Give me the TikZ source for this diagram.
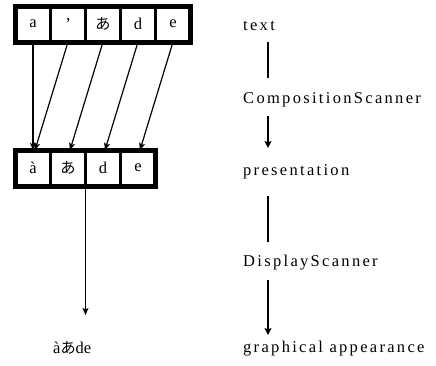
\documentclass[tikz,border=0pt]{standalone}
\usepackage{fontspec}
\setmainfont{Liberation Serif}
\newfontfamily\jpfont[Scale=0.92]{Noto Sans CJK JP}
\usetikzlibrary{arrows.meta, calc}
\newcommand{\kana}{{\jpfont あ}}
\newcommand{\labelfont}{\fontsize{16.5}{19}\selectfont}
\tikzset{
  cell/.style={draw, line width=2.6pt, minimum width=35pt, minimum height=36pt,
    inner sep=0pt, outer sep=0pt},
  frame/.style={line width=5pt},
  link/.style={-{Stealth[length=7pt, width=6pt, inset=1.5pt]}, line width=1.2pt},
  stage/.style={line width=1.8pt},
  stagearrow/.style={stage, -{Stealth[length=7pt, width=7pt, inset=1.5pt]}},
  level/.style={anchor=base west, inner sep=0pt,
    font=\labelfont\addfontfeature{LetterSpace=14}},
  every node/.append style={font=\labelfont}
}

\begin{document}
\begin{tikzpicture}[x=1pt, y=-1pt]
\useasboundingbox (0,0) rectangle (436,365);

% stored characters
\node[cell] (t1) at (33,24) {a};
\node[cell] (t2) at (68,24) {'};
\node[cell] (t3) at (103,24) {\kana};
\node[cell] (t4) at (138,24) {d};
\node[cell] (t5) at (173,24) {e};
\draw[frame] (t1.north west) rectangle (t5.south east);

% composed characters
\node[cell] (b1) at (33,168) {à};
\node[cell] (b2) at (68,168) {\kana};
\node[cell] (b3) at (103,168) {d};
\node[cell] (b4) at (138,168) {e};
\draw[frame] (b1.north west) rectangle (b4.south east);

\draw[link] (t1.south) -- (b1.north);
\draw[link] (t2.south) -- ([xshift=2pt]b1.north);
\draw[link] (t3.south) -- ([xshift=2pt]b2.north);
\draw[link] (t4.south) -- ([xshift=2pt]b3.north);
\draw[link] (t5.south) -- ([xshift=2pt]b4.north);

% rendered result
\coordinate (shown) at (b2.south east |- 0,315);
\node[anchor=base west, inner sep=0pt] (result) at (53,353) {à\kana de};
\draw[link, line width=1.5pt] (b2.south east) -- (shown);

% stages
\node[level] (txt) at (243,30) {text};
\node[level] (comp) at (243,103) {CompositionScanner};
\node[level] (pres) at (243,175) {presentation};
\node[level] (disp) at (243,266) {DisplayScanner};
\node[level] (look) at (243,352) {graphical appearance};

\draw[stage] ($(txt.base west)+(25,12)$) -- ($(comp.base west)+(25,-25)$);
\draw[stagearrow] ($(comp.base west)+(25,13)$) -- ($(pres.base west)+(25,-27)$);
\draw[stage] ($(pres.base west)+(25,21)$) -- ($(disp.base west)+(25,-24)$);
\draw[stagearrow] ($(disp.base west)+(25,14)$) -- ($(look.base west)+(25,-17)$);
\end{tikzpicture}
\end{document}
